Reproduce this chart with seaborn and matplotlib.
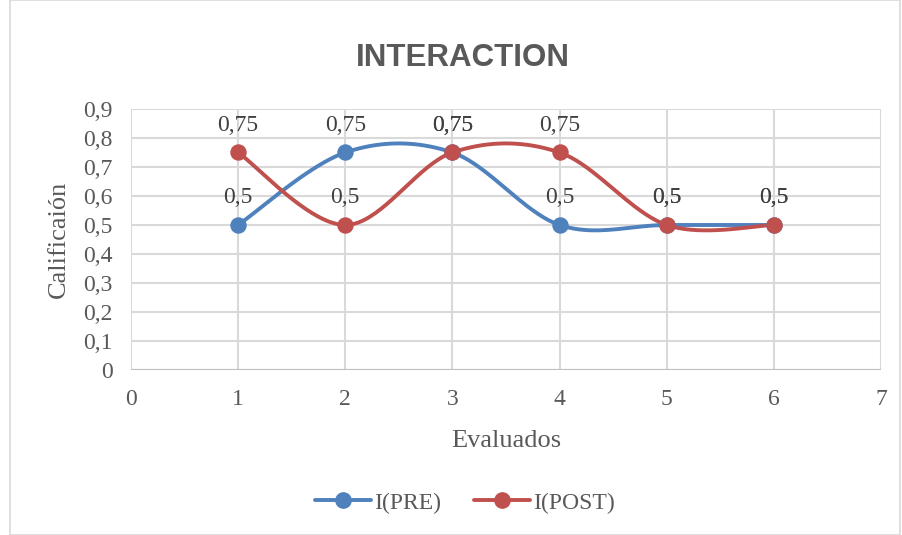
import numpy as np
import pandas as pd
import matplotlib
matplotlib.use("Agg")
import matplotlib.pyplot as plt
from matplotlib.lines import Line2D
from matplotlib.patches import Rectangle
import seaborn as sns

evaluados = [1, 2, 3, 4, 5, 6]
pre = [0.5, 0.75, 0.75, 0.5, 0.5, 0.5]
post = [0.75, 0.5, 0.75, 0.75, 0.5, 0.5]
series_names = ["I(PRE)", "I(POST)"]
colors = ["#4F81BD", "#C0504D"]
gray = "#595959"


def smooth(xs, ys, n=40):
    # Excel-like smoothed line (Catmull-Rom as cubic bezier)
    p = np.column_stack([xs, ys]).astype(float)
    p = np.vstack([p[0], p, p[-1]])
    out = []
    t = np.linspace(0, 1, n)[:, None]
    for i in range(1, len(p) - 2):
        p0, p1, p2, p3 = p[i - 1], p[i], p[i + 1], p[i + 2]
        c1 = p1 + (p2 - p0) / 6
        c2 = p2 - (p3 - p1) / 6
        seg = ((1 - t) ** 3) * p1 + 3 * ((1 - t) ** 2) * t * c1 + 3 * (1 - t) * t ** 2 * c2 + t ** 3 * p2
        out.append(seg)
    return np.vstack(out)


sns.set_style("white")
plt.rcParams["font.family"] = ["Liberation Serif", "DejaVu Serif"]

fig = plt.figure(figsize=(9.02, 5.35), dpi=100)
ax = fig.add_axes([0.1452, 0.3084, 0.8315, 0.4879])

for name, vals, col in zip(series_names, [pre, post], colors):
    c = smooth(evaluados, vals)
    df = pd.DataFrame({"x": c[:, 0], "y": c[:, 1]})
    sns.lineplot(data=df, x="x", y="y", sort=False, color=col, lw=2.8, ax=ax,
                 estimator=None)
    pts = pd.DataFrame({"x": evaluados, "y": vals})
    sns.scatterplot(data=pts, x="x", y="y", color=col, s=140, edgecolor=col,
                    linewidth=0, ax=ax, zorder=5)
    for xv, yv in zip(evaluados, vals):
        ax.annotate(str(yv).replace(".", ","), (xv, yv), xytext=(0, 19.5),
                    textcoords="offset points", ha="center", va="center",
                    fontsize=17, color="#404040")

ax.set_xlim(0, 7)
ax.set_ylim(0, 0.9)
ax.set_xticks(range(0, 8))
ax.set_yticks(np.arange(0, 0.91, 0.1))
ax.set_yticklabels(["0"] + [f"0,{i}" for i in range(1, 10)])
ax.tick_params(axis="x", length=0, labelsize=17, labelcolor=gray, pad=14)
ax.tick_params(axis="y", length=0, labelsize=17, labelcolor=gray, pad=13)
ax.grid(True, color="#D9D9D9", lw=1.5)
for s in ax.spines.values():
    s.set_visible(False)
ax.axhline(0, color="#BFBFBF", lw=1.5, zorder=1)
ax.set_xlabel("Evaluados", fontsize=19, color=gray, labelpad=14)
ax.set_ylabel("Calificaión", fontsize=19, color=gray, labelpad=10)

fig.text(0.513, 1 - 58 / 535, "INTERACTION", ha="center", va="center",
         fontsize=22.5, fontweight="bold", color=gray, family="Liberation Sans")

handles = [Line2D([0], [0], color=c, lw=2.8, marker="o", markersize=11)
           for c in colors]
fig.legend(handles, series_names, loc="center", ncol=2,
           bbox_to_anchor=(0.515, 1 - 503 / 535), frameon=False,
           fontsize=17, labelcolor=gray, handlelength=2.4, columnspacing=1.4,
           handletextpad=0.1)

fig.patches.append(Rectangle((10 / 902, 0), 1 - 12 / 902, 1, transform=fig.transFigure,
                             fill=False, edgecolor="#D9D9D9", lw=1.2))

fig.savefig("out.png", dpi=100)
